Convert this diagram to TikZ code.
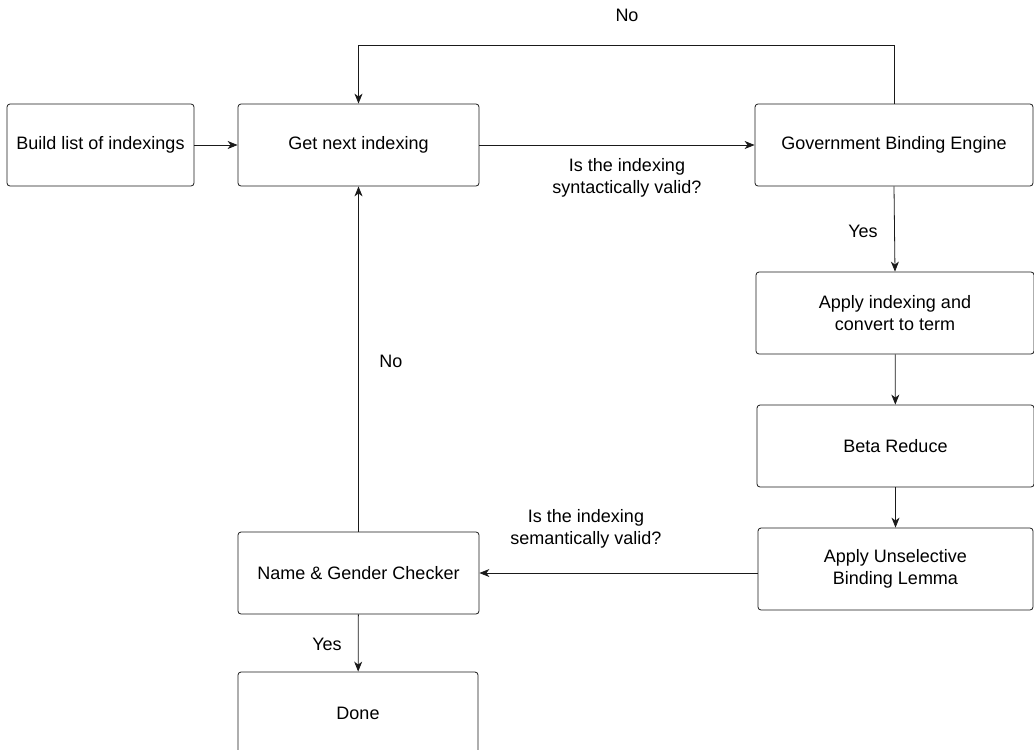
\documentclass[tikz,border=0pt]{standalone}
\usepackage{fontspec}
\setmainfont{Liberation Sans}
\usepackage{tikz}
\usetikzlibrary{positioning, arrows.meta}
\definecolor{cLine}{HTML}{1A1A1A}

\tikzset{
  stepbox/.style={draw=cLine, rounded corners=3pt, line width=0.8pt,
    minimum height=82pt, align=center, font=\fontsize{18}{22.5}\selectfont},
  flow/.style={-{Stealth[length=10pt,width=8pt,inset=3pt]}, line width=0.8pt, draw=cLine},
  lbl/.style={align=center, font=\fontsize{18}{22.5}\selectfont},
}

\begin{document}
\begin{tikzpicture}[x=1pt, y=-1pt]
  \useasboundingbox (0,0) rectangle (1034,750);

  % boxes
  \node[stepbox, minimum width=187pt] (build) at (100.5,145) {Build list of indexings};
  \node[stepbox, minimum width=241pt] (next)  at (358.5,145) {Get next indexing};
  \node[stepbox, minimum width=278pt] (gbe)   at (894,145)   {Government Binding Engine};
  \node[stepbox, minimum width=278pt] (apply) at (895,313)   {Apply indexing and\\convert to term};
  \node[stepbox, minimum width=277pt] (beta)  at (895.5,446) {Beta Reduce};
  \node[stepbox, minimum width=275pt] (ubl)   at (895.5,569) {Apply Unselective\\Binding Lemma};
  \node[stepbox, minimum width=241pt] (check) at (358.5,573) {Name \& Gender Checker};
  \node[stepbox, minimum width=240pt] (done)  at (358,713)   {Done};

  % connectors
  \draw[flow] (build) -- (next);
  \draw[flow] (next) -- (gbe);
  \draw[flow] (gbe.north) -- ++(0,-58) -| (next.north);
  \draw[flow] (gbe.south) -- (apply.north);
  \draw[flow] (apply) -- (beta);
  \draw[flow] (beta) -- (ubl);
  \draw[flow] (ubl.west |- check.east) -- (check.east);
  \draw[flow] (check) -- (next);
  \draw[flow] (check) -- (done);

  % labels
  \node[lbl] (lNo1)  at (627,15)  {No};
  \node[lbl] (lSyn)  at (627,178) {Is the indexing\\syntactically valid?};
  \node[lbl] (lYes1) at (863,231) {Yes};
  \node[lbl] (lSem)  at (586,529) {Is the indexing\\semantically valid?};
  \node[lbl] (lNo2)  at (391,361) {No};
  \node[lbl] (lYes2) at (327,644) {Yes};
\end{tikzpicture}
\end{document}
